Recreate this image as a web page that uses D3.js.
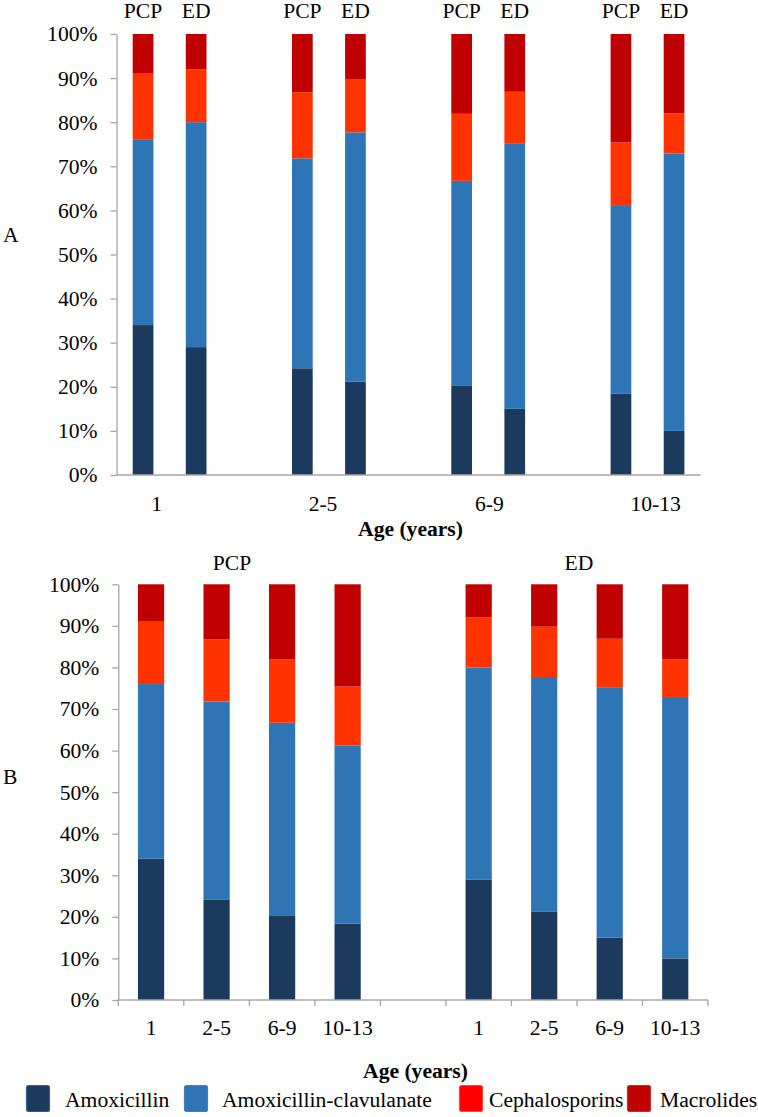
<!DOCTYPE html>
<html>
<head>
<meta charset="utf-8">
<script src="https://cdn.jsdelivr.net/npm/d3@7"></script>
<style>
  html, body { margin: 0; padding: 0; background: #fff; }
  svg { display: block; }
</style>
</head>
<body>
<svg id="chart" width="758" height="1117"></svg>
<script>
// ---------- DATA ----------
const ageGroups = ["1", "2-5", "6-9", "10-13"];
const settings = ["PCP", "ED"];
const drugs = ["Amoxicillin", "Amoxicillin-clavulanate", "Cephalosporins", "Macrolides"];
const amoxPCP = [34.0, 24.2, 20.2, 18.4];
const amoxED = [29.0, 21.2, 15.0, 10.0];
const amoxClavPCP = [42.0, 47.6, 46.5, 42.8];
const amoxClavED = [51.0, 56.5, 60.1, 62.9];
const cephPCP = [15.0, 15.0, 15.2, 14.2];
const cephED = [12.0, 12.1, 11.8, 9.1];
const macPCP = [9.0, 13.2, 18.1, 24.6];
const macED = [8.0, 10.2, 13.1, 18.0];
const yTicks = [0, 10, 20, 30, 40, 50, 60, 70, 80, 90, 100];

// ---------- STYLE ----------
const barColors = ["#1b3a5e", "#2e75b6", "#ff3300", "#c00000"];
const legendColors = ["#1b3a5e", "#2e75b6", "#ff0000", "#c00000"];
const legendStroke = ["#3d5f86", "#4a7fb5", "#ff4040", "#c63030"];
const axisColor = "#a6a6a6";
const fontSize = 21.6;

function pickFont(cands) {
  const c = document.createElement("canvas").getContext("2d");
  const s = "Amoxicillin-clavulanate 100% PCP";
  c.font = "40px monospace"; const wm = c.measureText(s).width;
  c.font = "40px sans-serif"; const ws = c.measureText(s).width;
  for (const f of cands) {
    c.font = `40px "${f}", monospace`; const a = c.measureText(s).width;
    c.font = `40px "${f}", sans-serif`; const b = c.measureText(s).width;
    if (a !== wm || b !== ws) return `"${f}", serif`;
  }
  return "serif";
}
const FONT = pickFont(["Liberation Serif", "Times New Roman", "Tinos", "Times", "Nimbus Roman", "DejaVu Serif", "Noto Serif"]);

const svg = d3.select("#chart").style("font-family", FONT);

const byDrug = {
  PCP: [amoxPCP, amoxClavPCP, cephPCP, macPCP],
  ED: [amoxED, amoxClavED, cephED, macED]
};

function rowFor(setting, i) {
  const r = { setting: setting, age: ageGroups[i], key: ageGroups[i] + "|" + setting };
  drugs.forEach((d, k) => { r[d] = byDrug[setting][k][i]; });
  return r;
}

const stack = d3.stack().keys(drugs);

function txt(sel) {
  return sel.attr("font-family", FONT).attr("font-size", fontSize).attr("fill", "#000");
}

function yAxis(g, y, x0) {
  const ax = d3.axisLeft(y)
    .tickValues(yTicks)
    .tickFormat(d => d + "%")
    .tickSize(6)
    .tickSizeOuter(0)
    .tickPadding(13);
  g.attr("transform", `translate(${x0},0)`).call(ax);
  g.attr("font-family", FONT).attr("font-size", fontSize);
  g.select(".domain").attr("stroke", axisColor).attr("stroke-width", 1.3);
  g.selectAll(".tick line").attr("stroke", axisColor).attr("stroke-width", 1.3);
  txt(g.selectAll(".tick text"));
}

function drawBars(g, rows, x, y, widthFrac) {
  const series = stack(rows);
  const bw = x.step() * widthFrac;
  g.selectAll("g.series").data(series).join("g")
    .attr("class", "series")
    .attr("fill", (d, i) => barColors[i])
    .selectAll("rect").data(d => d).join("rect")
    .attr("x", d => x(d.data.key) + (x.step() - bw) / 2)
    .attr("width", bw)
    .attr("y", d => y(d[1]))
    .attr("height", d => y(d[0]) - y(d[1]));
}

// ---------- PANEL A ----------
{
  const rowsA = [];
  const slotsA = [];
  ageGroups.forEach((a, i) => {
    settings.forEach(s => { rowsA.push(rowFor(s, i)); slotsA.push(a + "|" + s); });
    if (i < ageGroups.length - 1) slotsA.push("gap" + i);
  });
  const x = d3.scaleBand().domain(slotsA).range([116.5, 700.6]).padding(0);
  const y = d3.scaleLinear().domain([0, 100]).range([475, 34]);

  const g = svg.append("g");
  drawBars(g, rowsA, x, y, 0.39);
  yAxis(svg.append("g"), y, 116.5);
  svg.append("line").attr("x1", 116.5).attr("x2", x.range()[1])
    .attr("y1", y(0)).attr("y2", y(0)).attr("stroke", axisColor).attr("stroke-width", 1.3);

  txt(svg.append("g").selectAll("text").data(rowsA).join("text")
    .attr("x", d => x(d.key) + x.step() / 2)
    .attr("y", 18)
    .attr("text-anchor", "middle"))
    .text(d => d.setting);

  const ageX = d3.scalePoint().domain(ageGroups).range([156.7, 655.7]);
  txt(svg.append("g").selectAll("text").data(ageGroups).join("text")
    .attr("x", d => ageX(d)).attr("y", 511)
    .attr("text-anchor", "middle")).text(d => d);

  txt(svg.append("text").attr("x", 410.5).attr("y", 536).attr("text-anchor", "middle"))
    .attr("font-weight", "bold").text("Age (years)");
  txt(svg.append("text").attr("x", 3).attr("y", 242)).text("A");
}

// ---------- PANEL B ----------
{
  const rowsB = [];
  const slotsB = [];
  settings.forEach((s, si) => {
    ageGroups.forEach((a, i) => { rowsB.push(rowFor(s, i)); slotsB.push(a + "|" + s); });
    if (si === 0) slotsB.push("gap");
  });
  const x = d3.scaleBand().domain(slotsB).range([118.3, 708]).padding(0);
  const y = d3.scaleLinear().domain([0, 100]).range([1000, 584.3]);

  const g = svg.append("g");
  drawBars(g, rowsB, x, y, 0.4);
  yAxis(svg.append("g"), y, 118.3);

  const bnd = slotsB.map(k => x(k)).concat([x.range()[1]]);
  svg.append("line").attr("x1", 118.3).attr("x2", x.range()[1])
    .attr("y1", y(0)).attr("y2", y(0)).attr("stroke", axisColor).attr("stroke-width", 1.3);
  svg.append("g").selectAll("line").data(bnd).join("line")
    .attr("x1", d => d).attr("x2", d => d)
    .attr("y1", y(0)).attr("y2", y(0) + 6)
    .attr("stroke", axisColor).attr("stroke-width", 1.3);

  txt(svg.append("g").selectAll("text").data(rowsB).join("text")
    .attr("x", d => x(d.key) + x.step() / 2).attr("y", 1035)
    .attr("text-anchor", "middle")).text(d => d.age);

  const groupTitleX = { PCP: 232, ED: 579 };
  txt(svg.append("g").selectAll("text").data(settings).join("text")
    .attr("x", d => groupTitleX[d]).attr("y", 570)
    .attr("text-anchor", "middle")).text(d => d);

  txt(svg.append("text").attr("x", 415.5).attr("y", 1078).attr("text-anchor", "middle"))
    .attr("font-weight", "bold").text("Age (years)");
  txt(svg.append("text").attr("x", 3).attr("y", 784)).text("B");
}

// ---------- LEGEND ----------
{
  const legendX = [26, 184, 459, 627];
  const textGap = [15, 14, 6, 9];
  const sq = 24;
  const lg = svg.append("g").selectAll("g").data(drugs).join("g")
    .attr("transform", (d, i) => `translate(${legendX[i]},1085)`);
  lg.append("rect").attr("width", sq - 1).attr("height", 26).attr("rx", 2)
    .attr("x", 0.5).attr("y", 0.5)
    .attr("fill", (d, i) => legendColors[i])
    .attr("stroke", (d, i) => legendStroke[i]).attr("stroke-width", 1.2);
  txt(lg.append("text").attr("x", (d, i) => sq + textGap[i]).attr("y", 22)).text(d => d);
}
</script>
</body>
</html>
